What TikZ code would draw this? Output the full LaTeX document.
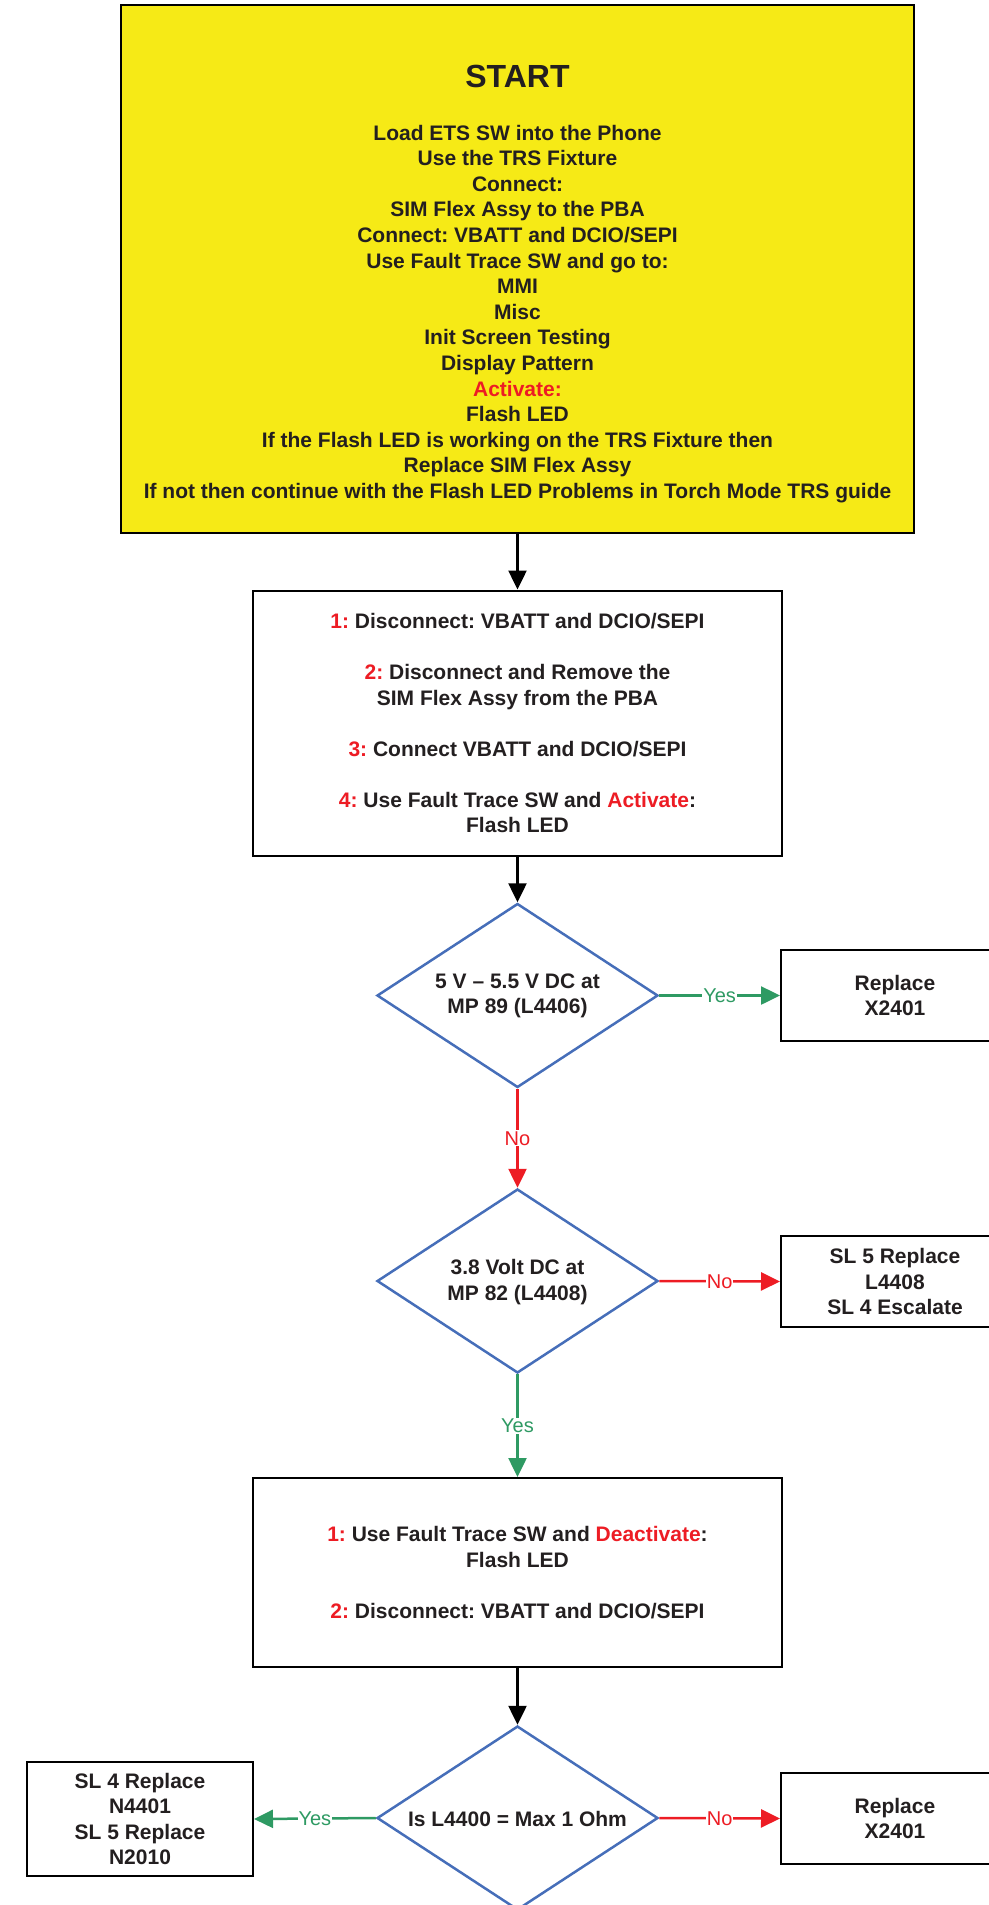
\documentclass[tikz,border=0pt]{standalone}
\usepackage{fontspec}
\setmainfont{Liberation Sans}
\usetikzlibrary{arrows.meta,shapes.geometric}
\definecolor{ylw}{RGB}{246,234,22}
\definecolor{diablue}{RGB}{70,110,185}
\definecolor{fgrn}{RGB}{46,154,99}
\definecolor{fred}{RGB}{237,28,36}
\definecolor{ink}{RGB}{35,31,32}
\frenchspacing
\begin{document}
\begin{tikzpicture}[x=1pt,y=-1pt,
  txt/.style={font=\fontsize{21}{25.5}\selectfont\bfseries, text=ink, align=center},
  box/.style={draw=black, line width=2pt, fill=white, inner sep=0pt},
  dia/.style={diamond, draw=diablue, line width=2.5pt, minimum width=281pt, minimum height=184pt, inner sep=0pt},
  conn/.style={line width=2.5pt, -{Triangle[length=19pt,width=18pt]}},
  lab/.style={font=\fontsize{20}{24}\selectfont, fill=white, inner sep=1pt}]
\useasboundingbox (0,0) rectangle (988,1905);

% START box
\node[box, fill=ylw, minimum width=793pt, minimum height=528pt] (start) at (517.5,269) {};
\node[font=\fontsize{32}{36}\selectfont\bfseries, text=ink] (starttitle) at (517.5,76) {START};
\node[txt, font=\fontsize{21}{25.6}\selectfont\bfseries] (starttext) at (517.5,314) {Load ETS SW into the Phone\\
Use the TRS Fixture\\
Connect:\\
SIM Flex Assy to the PBA\\
Connect: VBATT and DCIO/SEPI\\
Use Fault Trace SW and go to:\\
MMI\\
Misc\\
Init Screen Testing\\
Display Pattern\\
\textcolor{fred}{Activate:}\\
Flash LED\\
If the Flash LED is working on the TRS Fixture then\\
Replace SIM Flex Assy\\
If not then continue with the Flash LED Problems in Torch Mode TRS guide};

% box 1
\node[box, txt, minimum width=529pt, minimum height=265pt] (b1) at (517.5,723) {\textcolor{fred}{1:} Disconnect: VBATT and DCIO/SEPI\\[25.5pt]
\textcolor{fred}{2:} Disconnect and Remove the\\
SIM Flex Assy from the PBA\\[25.5pt]
\textcolor{fred}{3:} Connect VBATT and DCIO/SEPI\\[25.5pt]
\textcolor{fred}{4:} Use Fault Trace SW and \textcolor{fred}{Activate}:\\
Flash LED};

% diamond 1
\node[dia] (d1) at (517.5,995.5) {};
\node[txt] (d1t) at (517.5,996) {5 V -- 5.5 V DC at\\MP 89 (L4406)};
\node[box, txt, minimum width=228pt, minimum height=91pt] (r1) at (895,995.5) {Replace\\X2401};

% diamond 2
\node[dia] (d2) at (517.5,1281) {};
\node[txt] (d2t) at (517.5,1282) {3.8 Volt DC at\\MP 82 (L4408)};
\node[box, txt, minimum width=228pt, minimum height=91pt] (r2) at (895,1281.5) {SL 5 Replace\\L4408\\SL 4 Escalate};

% box 3
\node[box, txt, minimum width=529pt, minimum height=189pt] (b3) at (517.5,1572.5) {\textcolor{fred}{1:} Use Fault Trace SW and \textcolor{fred}{Deactivate}:\\
Flash LED\\[25.5pt]
\textcolor{fred}{2:} Disconnect: VBATT and DCIO/SEPI};

% diamond 3
\node[dia] (d3) at (517.5,1818) {};
\node[txt] (d3t) at (517.5,1819) {Is L4400 = Max 1 Ohm};
\node[box, txt, minimum width=226pt, minimum height=114pt] (l3) at (140,1819) {SL 4 Replace\\N4401\\SL 5 Replace\\N2010};
\node[box, txt, minimum width=228pt, minimum height=91pt] (r3) at (895,1818.5) {Replace\\X2401};

% connectors
\draw[conn] (start.south) -- (b1.north);
\draw[conn] (b1.south) -- (d1.north);
\draw[conn, fgrn] (d1.east) -- node[lab, text=fgrn] {Yes} (r1.west);
\draw[conn, fred] (d1.south) -- node[lab, text=fred] {No} (d2.north);
\draw[conn, fred] (d2.east) -- node[lab, text=fred] {No} (r2.west);
\draw[conn, fgrn] (d2.south) -- node[lab, text=fgrn] {Yes} (b3.north);
\draw[conn] (b3.south) -- (d3.north);
\draw[conn, fgrn] (d3.west) -- node[lab, text=fgrn] {Yes} (l3.east);
\draw[conn, fred] (d3.east) -- node[lab, text=fred] {No} (r3.west);
\end{tikzpicture}
\end{document}
